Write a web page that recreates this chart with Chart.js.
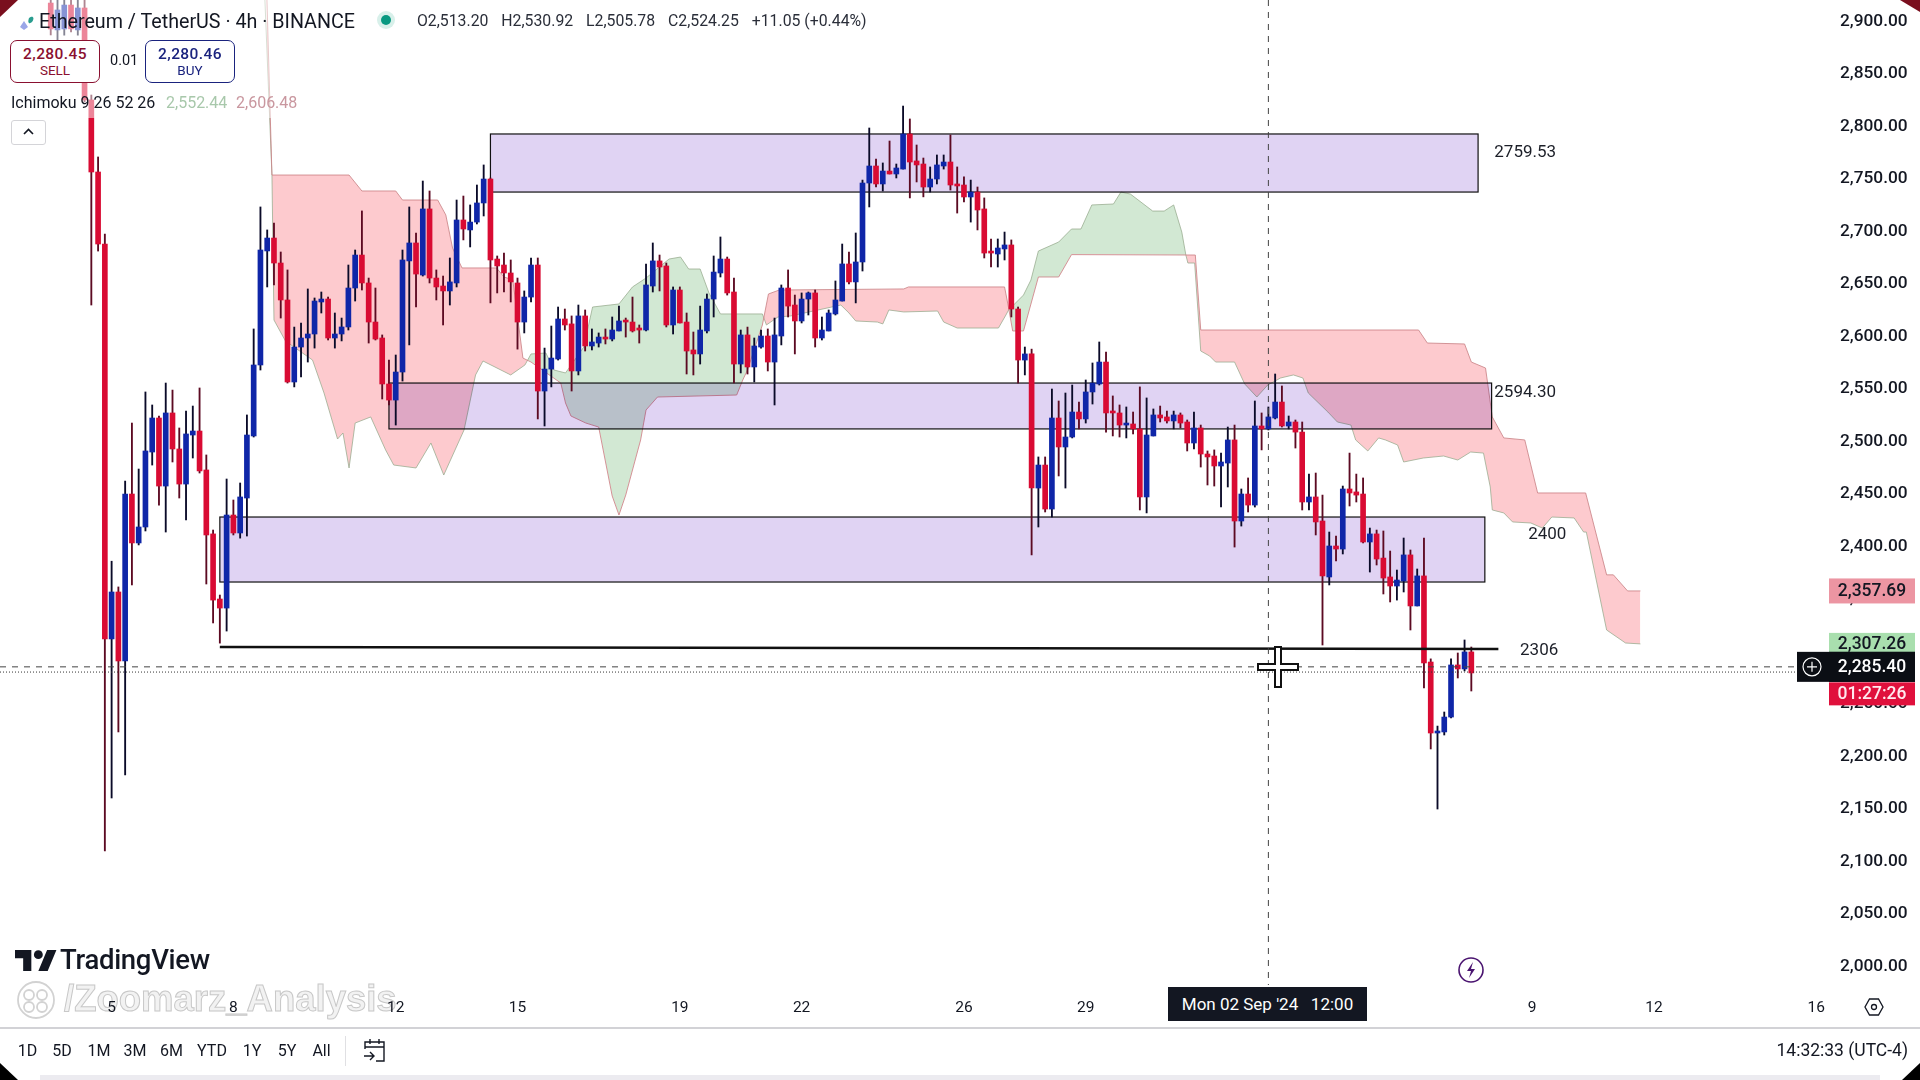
<!DOCTYPE html>
<html>
<head>
<meta charset="utf-8">
<title>ETHUSDT 4h</title>
<script src="https://cdn.jsdelivr.net/npm/chart.js@4/dist/chart.umd.min.js"></script>
<style>
	body { margin: 0; background: #fff; font-family: Roboto, sans-serif; color: #131722; overflow: hidden; }
	#stage { position: relative; width: 1920px; height: 1080px; overflow: hidden; }
	canvas { position: absolute; left: 0; top: 0; }
	.abs { position: absolute; white-space: nowrap; line-height: 1; }
	.range { position: absolute; top: 1043px; font-size: 16px; transform: translateX(-50%); line-height: 1; }
	.trade { position: absolute; top: 40px; width: 90px; height: 43px; border-radius: 7px; background: #fff; text-align: center; box-sizing: border-box; border: 1.5px solid; }
	.trade b { display: block; font-size: 15.5px; font-weight: 500; margin-top: 5px; line-height: 17px; letter-spacing: .4px; }
	.trade span { display: block; font-size: 13.5px; line-height: 15px; }
</style>
</head>
<body>
<div id="stage">
	<canvas id="chart" width="1920" height="1080"></canvas>

	<div class="abs" style="left:0;top:0;width:360px;height:118px;background:rgba(255,255,255,.5)"></div>
	<div class="abs" style="left:0;top:0;width:18px;height:17px;background:#7a0f1e;clip-path:polygon(0 0,100% 0,0 100%)"></div>
	<div class="abs" style="left:1900px;top:0;width:20px;height:12px;background:#7a0f1e;clip-path:polygon(0 0,100% 0,100% 100%)"></div>

	<svg class="abs" style="left:14px;top:12px" width="22" height="22" viewBox="0 0 22 22">
		<path d="M10 18l-4-3 4-6 4 6z" fill="#9aa6e8"/><path d="M15 6c4-3 6 0 3 4-2 2-5 2-3-4z" fill="#2a9d8f"/>
	</svg>
	<div class="abs" style="left:39px;top:12px;font-size:19.700px">Ethereum / TetherUS · 4h · BINANCE</div>
	<div class="abs" style="left:381px;top:15px;width:10px;height:10px;border-radius:50%;background:#089981;box-shadow:0 0 0 4px #d8f0ea"></div>
	<div class="abs" style="left:417px;top:13px;font-size:15.800px;word-spacing:9px;color:#2a2e39">O2,513.20 H2,530.92 L2,505.78 C2,524.25 <span style="word-spacing:0">+11.05 (+0.44%)</span></div>

	<div class="trade" style="left:10px;border-color:#8a1030;color:#8a1030"><b>2,280.45</b><span>SELL</span></div>
	<div class="abs" style="left:110px;top:54px;font-size:14.500px">0.01</div>
	<div class="trade" style="left:145px;border-color:#1a237e;color:#1a237e"><b>2,280.46</b><span>BUY</span></div>

	<div class="abs" style="left:11px;top:95px;font-size:16px">Ichimoku 9 26 52 26</div>
	<div class="abs" style="left:166px;top:95px;font-size:16px;color:#a8c8ab">2,552.44</div>
	<div class="abs" style="left:236px;top:95px;font-size:16px;color:#c9979f">2,606.48</div>
	<div class="abs" style="left:11px;top:120px;width:35px;height:25px;border:1px solid #d4d4d8;border-radius:3px;box-sizing:border-box;background:#fff">
		<svg width="33" height="23" viewBox="0 0 33 23"><path d="M12 13l4.500-4.500 4.500 4.500" fill="none" stroke="#131722" stroke-width="1.600"/></svg>
	</div>

	<svg class="abs" style="left:1256px;top:645px" width="44" height="44" viewBox="0 0 44 44">
		<path d="M19 2h6v17h17v6H25v17h-6V25H2v-6h17z" fill="#fff" stroke="#111" stroke-width="2"/>
	</svg>

	<svg class="abs" style="left:15px;top:950px" width="42" height="21" viewBox="0 0 36 18" preserveAspectRatio="none">
		<path d="M14 18H7V7H0V0h14zM28 18h-8L27.500 0h8z" fill="#131722"/><circle cx="20" cy="4" r="3.800" fill="#131722"/>
	</svg>
	<div class="abs" style="left:60px;top:946px;font-size:27.500px;font-weight:500;letter-spacing:-.3px">TradingView</div>

	<svg class="abs" style="left:15px;top:980px" width="42" height="40" viewBox="0 0 42 40" fill="none" stroke="#d2d2d2" stroke-width="1.800">
		<circle cx="21" cy="20" r="18"/><circle cx="14" cy="15" r="5"/><circle cx="27" cy="15" r="5"/><circle cx="14" cy="27" r="5"/><circle cx="27" cy="27" r="5"/>
	</svg>
	<div class="abs" style="left:64px;top:981px;font-family:'Liberation Sans';font-size:36.500px;font-weight:700;color:#f2f2f2;-webkit-text-stroke:1px #c8c8c8;mix-blend-mode:multiply">/Zoomarz_Analysis</div>

	<svg class="abs" style="left:1458px;top:957px" width="26" height="26" viewBox="0 0 26 26">
		<circle cx="13" cy="13" r="12" fill="#fff" stroke="#4a1470" stroke-width="1.600"/><path d="M15 5l-6 9h4l-2 7 6-9h-4z" fill="#4a1470"/>
	</svg>

	<div class="abs" style="left:1168px;top:987px;width:199px;height:34px;background:#131722;color:#fff;font-size:17px;line-height:34px;text-align:center;white-space:pre">Mon 02 Sep '24   12:00</div>

	<svg class="abs" style="left:1864px;top:997px" width="20" height="20" viewBox="0 0 20 20" fill="none" stroke="#131722" stroke-width="1.300">
		<path d="M5.500 2h9l4.500 8-4.500 8h-9L1 10z"/><circle cx="10" cy="10" r="2.500"/>
	</svg>

	<div class="abs" style="left:0;top:1027px;width:1920px;height:1.500px;background:#d2d2d6"></div>

	<div class="range" style="left:27.500px">1D</div>
	<div class="range" style="left:62px">5D</div>
	<div class="range" style="left:99px">1M</div>
	<div class="range" style="left:135px">3M</div>
	<div class="range" style="left:171.500px">6M</div>
	<div class="range" style="left:212px">YTD</div>
	<div class="range" style="left:252px">1Y</div>
	<div class="range" style="left:287px">5Y</div>
	<div class="range" style="left:321.500px">All</div>
	<div class="abs" style="left:345px;top:1036px;width:1px;height:30px;background:#e0e0e3"></div>
	<svg class="abs" style="left:363px;top:1037px" width="24" height="26" viewBox="0 0 24 26" fill="none" stroke="#131722" stroke-width="1.400">
		<path d="M2 12V5h19v19h-8M2 10h19M7 2v5M16 2v5M1 19h9M7 15l4 4-4 4"/>
	</svg>
	<div class="abs" style="right:12px;top:1042px;font-size:17.500px">14:32:33 (UTC-4)</div>

	<div class="abs" style="left:40px;top:1075px;width:1840px;height:5px;background:#ecebf0"></div>
	<div class="abs" style="left:0;top:1063px;width:18px;height:17px;background:#000;clip-path:polygon(0 0,100% 100%,0 100%)"></div>
	<div class="abs" style="left:1902px;top:1063px;width:18px;height:17px;background:#000;clip-path:polygon(100% 0,100% 100%,0 100%)"></div>
</div>

<script>
'use strict'

// top/bottom of candle bodies are open/close, one entry per 4h bar
const opens = [
	2917.6, 2892, 2892.9, 2915.7, 2892, 2912.9, 2825.3, 2756.7, 2688.1, 2312,
	2356.7, 2291, 2450, 2403.4, 2418.6, 2490, 2522.4, 2457.6, 2527.2, 2492.9,
	2459.5, 2506.2, 2510, 2472.9, 2412, 2350, 2341.4, 2430, 2412.9, 2446.2,
	2505.3, 2572.9, 2681.5, 2693.8, 2670, 2634.8, 2556.7, 2590, 2598.6, 2602.4,
	2632.9, 2635.7, 2598.6, 2602.4, 2609.1, 2646.2, 2677.6, 2651, 2613.8, 2598.6,
	2554.8, 2539.5, 2566.2, 2672, 2689.1, 2658.6, 2721.5, 2655.7, 2648.1, 2643.4,
	2651, 2711, 2701.5, 2709, 2727.2, 2750, 2673.8, 2668.1, 2660.5, 2651,
	2613.8, 2637.6, 2668.1, 2548.1, 2569, 2578.6, 2616.7, 2612, 2567.2, 2619.6,
	2591, 2593.8, 2599.5, 2597.6, 2605.3, 2614.8, 2613.8, 2607.2, 2606.2, 2648.1,
	2672, 2667.2, 2611, 2644.3, 2613.8, 2587.2, 2583.4, 2605.3, 2635.7, 2660.5,
	2673.8, 2642.4, 2573.8, 2601.5, 2571, 2590, 2600.5, 2575.7, 2600.5, 2646.2,
	2630, 2614.8, 2635.7, 2641.5, 2598.6, 2605.3, 2621.5, 2633.8, 2669.1, 2652,
	2671, 2746.2, 2762.4, 2745.3, 2757.6, 2754.8, 2759.5, 2792.9, 2767.2, 2764.3,
	2742.4, 2750, 2762.4, 2766.2, 2745.3, 2744.3, 2732.9, 2737.6, 2721.5, 2680.5,
	2678.6, 2683.4, 2687.2, 2626.2, 2577.6, 2583.4, 2455.7, 2477.6, 2435.7, 2522.4,
	2494.8, 2504.3, 2528.1, 2521.5, 2547.2, 2554.8, 2575.7, 2528.1, 2527.2, 2515.7,
	2516.7, 2512, 2447.2, 2505.3, 2525.3, 2523.4, 2519.6, 2525.3, 2518.6, 2498.6,
	2512.9, 2488.1, 2486.2, 2476.7, 2479.5, 2501.5, 2424.3, 2450, 2439.5, 2514.8,
	2512, 2522.4, 2537.6, 2514.8, 2518.6, 2509, 2442.4, 2447.2, 2424.3, 2371,
	2400.5, 2397.6, 2454.8, 2452, 2450, 2404.3, 2412, 2389, 2371, 2362.4,
	2367.2, 2392, 2343.4, 2372, 2290, 2222.4, 2223.4, 2237.6, 2287.2, 2283.4,
	2299.6,
]
const closes = [
	2892.9, 2911, 2915.7, 2893, 2912.9, 2825.3, 2756.7, 2688.1, 2312, 2356.7,
	2291, 2450, 2403.4, 2418.6, 2491, 2522.4, 2457.6, 2527.2, 2492.9, 2459.5,
	2507.2, 2510, 2472, 2411, 2349, 2341.4, 2430, 2412.9, 2447.2, 2506.2,
	2572.9, 2682.4, 2693.8, 2670, 2634.8, 2556.7, 2590, 2598.6, 2602.4, 2633.8,
	2635.7, 2598.6, 2602.4, 2609.1, 2646.2, 2677.6, 2651, 2613.8, 2597.6, 2554.8,
	2539.5, 2566.2, 2672.9, 2689.1, 2659.5, 2721.5, 2655.7, 2647.2, 2643.4, 2652,
	2711, 2702.4, 2709, 2727.2, 2750, 2672.9, 2667.2, 2660.5, 2652, 2613.8,
	2637.6, 2668.1, 2548.1, 2569, 2579.5, 2616.7, 2611, 2567.2, 2619.6, 2591,
	2594.8, 2599.5, 2597.6, 2606.2, 2614.8, 2613.8, 2605.3, 2606.2, 2649.1, 2672,
	2666.2, 2611, 2644.3, 2612.9, 2586.2, 2583.4, 2606.2, 2635.7, 2661.4, 2673.8,
	2641.5, 2573.8, 2601.5, 2571, 2591, 2600.5, 2575.7, 2601.5, 2646.2, 2629,
	2614.8, 2635.7, 2641.5, 2598.6, 2606.2, 2622.4, 2634.8, 2669.1, 2652, 2671,
	2746.2, 2762.4, 2745.3, 2757.6, 2754.8, 2760.5, 2792.9, 2766.2, 2763.4, 2742.4,
	2750, 2763.4, 2766.2, 2744.3, 2743.4, 2732.9, 2737.6, 2720.5, 2679.5, 2679.5,
	2684.3, 2687.2, 2626.2, 2577.6, 2583.4, 2455.7, 2477.6, 2435.7, 2522.4, 2494.8,
	2504.3, 2528.1, 2521.5, 2547.2, 2555.7, 2575.7, 2527.2, 2527.2, 2515.7, 2516.7,
	2512, 2447.2, 2506.2, 2525.3, 2522.4, 2519.6, 2525.3, 2517.6, 2498.6, 2512.9,
	2488.1, 2485.3, 2476.7, 2480.5, 2501.5, 2424.3, 2450, 2439.5, 2514.8, 2512,
	2523.4, 2537.6, 2514.8, 2518.6, 2509, 2442.4, 2447.2, 2423.4, 2372, 2400.5,
	2397.6, 2454.8, 2451, 2449, 2404.3, 2412, 2388.1, 2370, 2362.4, 2368.1,
	2392, 2343.4, 2372, 2289.1, 2222.4, 2224.3, 2237.6, 2287.2, 2283.4, 2299.6,
	2279.6,
]
const highs = [
	2925, 2925, 2925, 2925, 2925, 2925, 2830, 2771, 2697.6, 2386,
	2361.5, 2462.4, 2517.6, 2473.8, 2547.2, 2534.8, 2524.3, 2555.7, 2549, 2512.9,
	2529, 2533.8, 2551, 2487.2, 2415.7, 2353.8, 2464.3, 2444.3, 2460.5, 2525.3,
	2607.2, 2723.4, 2701.5, 2708.1, 2680.5, 2663.4, 2609, 2612.9, 2645.3, 2636.7,
	2642.4, 2637.6, 2622.4, 2617.6, 2668.1, 2682.4, 2719.6, 2655.7, 2646.2, 2601.5,
	2577.6, 2582.4, 2682.4, 2723.4, 2698.6, 2748.1, 2738.6, 2663.4, 2657.6, 2674.8,
	2730, 2733.8, 2725.3, 2744.3, 2763.4, 2751, 2676.7, 2679.5, 2672.9, 2655.7,
	2643.4, 2674.8, 2674.8, 2589, 2610, 2628.1, 2626.2, 2619.6, 2630, 2625.3,
	2607.2, 2603.4, 2607.2, 2618.6, 2629, 2617.6, 2637.6, 2611, 2669.1, 2689.1,
	2677.6, 2670, 2647.2, 2647.2, 2622.4, 2604.3, 2629, 2640.5, 2676.7, 2694.8,
	2675.7, 2655.7, 2606.2, 2609, 2598.6, 2606.2, 2607.2, 2617.6, 2649.1, 2663.4,
	2639.5, 2641.5, 2642.4, 2644.3, 2618.6, 2625.3, 2652.9, 2688.1, 2680.5, 2698.6,
	2749, 2798.6, 2769, 2765.3, 2786.2, 2764.3, 2819.5, 2807.2, 2782.4, 2770,
	2761.5, 2772.9, 2772.9, 2792, 2761.5, 2752, 2749, 2742.4, 2732, 2692.9,
	2692.9, 2699.5, 2692, 2628.1, 2590, 2588, 2485.3, 2485.3, 2550, 2538.6,
	2546.2, 2553.8, 2537.6, 2558.6, 2574.8, 2594.8, 2585.3, 2543.4, 2534.8, 2532.9,
	2528.1, 2552, 2541.5, 2531, 2533.8, 2529, 2529, 2527.2, 2520.5, 2528.1,
	2515.7, 2491, 2492, 2489, 2513.8, 2515.7, 2454.8, 2465.3, 2538.6, 2527.2,
	2532.9, 2564.3, 2552.9, 2524.3, 2520.5, 2518.6, 2469, 2470, 2449, 2413.8,
	2410, 2457.6, 2489, 2469, 2465.3, 2417.6, 2415.7, 2414.8, 2395.7, 2377.6,
	2408.1, 2396.7, 2378.6, 2408.1, 2293, 2229, 2242.4, 2293, 2298.6, 2311,
	2304.3,
]
const lows = [
	2887.2, 2882.4, 2887, 2890, 2887, 2823.4, 2630, 2681.4, 2110, 2160.5,
	2223.4, 2182.4, 2363.4, 2401.5, 2414.8, 2477.6, 2439.5, 2413.8, 2480.5, 2446.2,
	2425.3, 2484.3, 2470, 2364.3, 2327.2, 2308, 2319.5, 2411, 2408, 2410,
	2504.3, 2568.1, 2647.2, 2649.1, 2617.6, 2555.7, 2552, 2561.5, 2575.7, 2589,
	2622.4, 2596.7, 2589, 2595.8, 2606.2, 2633.8, 2644.3, 2593.8, 2596.7, 2540.5,
	2534.8, 2515.7, 2557.6, 2592, 2628.1, 2657.6, 2651, 2634.8, 2611, 2630,
	2647.2, 2692, 2685.3, 2707.2, 2714.8, 2632, 2641.5, 2642.4, 2632.9, 2588,
	2603.4, 2632.9, 2521.5, 2514.8, 2552, 2577.6, 2606.2, 2548.1, 2563.4, 2586.2,
	2587.2, 2590, 2592.9, 2595.8, 2605.3, 2599.5, 2604.3, 2593.8, 2605.3, 2642.4,
	2643.4, 2609.1, 2602.4, 2612.9, 2564.3, 2563.4, 2573.8, 2603.4, 2618.6, 2656.7,
	2639.5, 2555.7, 2565.3, 2564.3, 2556.7, 2589, 2567.2, 2534.8, 2592, 2618.6,
	2583.4, 2612.9, 2620.5, 2590, 2596.7, 2605.3, 2620.5, 2633.8, 2650, 2632,
	2662.4, 2723.4, 2742.4, 2738.6, 2754.8, 2751, 2759.5, 2732, 2747.2, 2733,
	2737.6, 2745.3, 2759.5, 2739.5, 2717.6, 2728.1, 2709, 2701.5, 2674.8, 2666.2,
	2666.2, 2672.9, 2618.6, 2555.7, 2563.4, 2392, 2418.6, 2432.9, 2428.1, 2467.2,
	2455.7, 2503.4, 2512, 2517.6, 2535.7, 2553.8, 2509, 2505.3, 2504.3, 2503.4,
	2507.2, 2434.8, 2432, 2505.3, 2518.6, 2517.6, 2512, 2513, 2491, 2492.9,
	2475.7, 2458.6, 2457.6, 2437.6, 2456.7, 2399.5, 2419.5, 2432.9, 2437.6, 2492,
	2511, 2521.5, 2513.8, 2512, 2493.8, 2434.8, 2434.8, 2411, 2306.2, 2363.4,
	2386.2, 2392.9, 2438.6, 2442.4, 2403.4, 2375.7, 2382.4, 2354.8, 2347.2, 2349,
	2356.7, 2320.5, 2343.4, 2265.3, 2207.2, 2150, 2220.5, 2236.7, 2274.8, 2281.5,
	2262.4,
]

// ichimoku cloud edges, vertices (bar number, price)
const spanABars = [
	31.6, 32.7, 33, 34.7, 38.7, 40.4, 42.4, 43.2, 44.1, 45, 47.3, 49.5, 50.7, 54, 56.2, 58.1, 61.1, 62.8, 63.9, 68,
	70.1, 71, 73.2, 74.4, 76.1, 78.8, 80.1, 84, 86, 88, 91.4, 93.1, 94.3, 96, 97.3, 99, 105.2, 105.8, 107.5, 109.4,
	116.8, 118, 119, 122.2, 123, 123.9, 126.1, 131.1, 132, 134, 140.1, 141.2, 141.6, 143.8, 144.9, 146, 149, 150.9, 152.3, 153.9,
	157.1, 158.2, 159.6, 162.9, 164.6, 166, 167.2, 167.8, 168.1, 169.1, 170, 171.3, 172.2, 175, 176.5, 178.3, 179.9, 181.8, 183.7, 185.1,
	185.9, 188.8, 190.2, 192.2, 192.9, 194.7, 196.3, 197.3, 199.1, 200, 202.9, 205.9, 208, 209.9, 211.8, 212.8, 213.1, 214.8, 216.1, 218.8,
	220.5, 221.9, 225.2, 226.6, 227, 230, 232.8, 235,
]
const spanAValues = [
	2930, 2753.8, 2615.7, 2595.7, 2577.6, 2546.2, 2502.4, 2508.1, 2474.8, 2517.6, 2523.4, 2492, 2477.6, 2474.8, 2498.6, 2468.1, 2511, 2563.4, 2576.7, 2563.4,
	2572.9, 2583.4, 2584.3, 2568.1, 2565.3, 2590, 2628.1, 2631, 2647.2, 2655.7, 2673.8, 2675.7, 2664.3, 2664.3, 2641.5, 2621.5, 2621.5, 2611, 2618.6, 2619.6,
	2630, 2622.4, 2614.8, 2613.8, 2612, 2625.3, 2623.4, 2624.3, 2613.8, 2608.1, 2608.1, 2620.5, 2625.3, 2639.5, 2653.8, 2681.4, 2690, 2702.4, 2702.4, 2725.3,
	2726.2, 2737.6, 2735.7, 2719.5, 2719.5, 2725.3, 2699.5, 2677.6, 2670, 2670, 2586.2, 2581.5, 2575.7, 2575.7, 2554.8, 2542.4, 2553.8, 2560.5, 2563.4, 2560.5,
	2546.2, 2528.1, 2518.6, 2515.7, 2501.5, 2491, 2503.4, 2501.5, 2496.7, 2480.5, 2484.3, 2486.2, 2482.4, 2490, 2489, 2456.7, 2434.8, 2432, 2423.4, 2422.4,
	2417.6, 2428.1, 2427.2, 2413.8, 2413.8, 2320.5, 2308.1, 2307.26,
]
const spanBBars = [
	31.9, 32.7, 44.1, 46, 51, 52, 57.2, 58.4, 59.4, 60.8, 65.9, 67, 68.3, 69.8, 71, 75.4, 76.1, 76.9, 79.1, 81,
	83, 84, 85, 87.2, 88, 89.7, 101.4, 102.3, 103, 105.2, 106.1, 107.7, 126.1, 126.8, 141, 141.6, 142.2, 143.8, 146, 149,
	150.9, 169.2, 170, 202.2, 203.5, 209, 210, 212.1, 213.1, 214.8, 217.9, 219.8, 226.9, 230, 231, 233.1, 235,
]
const spanBValues = [
	2935, 2753.8, 2753.8, 2738.6, 2738.6, 2730, 2730, 2715.8, 2684.3, 2665.3, 2665.3, 2656.7, 2654, 2579.5, 2575.7, 2555.7, 2536.7, 2524.3, 2517.6, 2513.8,
	2448.1, 2430, 2449, 2501.5, 2530, 2542.4, 2544.3, 2558.6, 2568.1, 2611, 2640.5, 2644.3, 2645.3, 2647.2, 2647.2, 2627.2, 2605.3, 2605.3, 2656.7, 2656.7,
	2678, 2677.6, 2606.2, 2606.2, 2593.8, 2592.9, 2575.7, 2570, 2523.4, 2503.4, 2501.5, 2451, 2451, 2373, 2373, 2357.69, 2357.69,
]

// drawn zones and their labels
const zoneStart = [65, 50, 25]
const zoneEnd = [211, 213, 212]
const zoneTop = [2792.9, 2555.7, 2428.1]
const zoneBottom = [2737.6, 2512, 2366.2]
const noteTexts = ['2759.53', '2594.30', '2400', '2306']
const noteBars = [213.4, 213.4, 218.4, 217.2]
const notePrices = [2775, 2546, 2411, 2301]
const supportBars = [25, 214]
const supportPrices = [2304.3, 2302.4]

const crossBar = 180
const crossPrice = 2285.4
const lastPrice = 2280.45

const xTickBars = [9, 27, 51, 69, 93, 111, 135, 153, 219, 237, 261]
const xTickLabels = ['5', '8', '12', '15', '19', '22', '26', '29', '9', '12', '16']
const yTickValues = [2000, 2050, 2100, 2150, 2200, 2250, 2300, 2350, 2400, 2450, 2500, 2550, 2600, 2650, 2700, 2750, 2800, 2850, 2900]

const UP_COLOR = '#0f26a8'
const DOWN_COLOR = '#d90b33'
const FONT = 'Roboto, sans-serif'

function formatPrice(val) {
	return val.toLocaleString('en-US', { minimumFractionDigits: 2, maximumFractionDigits: 2 })
}

function isUp(idx) {
	return closes[idx] >= opens[idx]
}

function badge(ctx, left, right, yMid, height, fill, text, color) {
	ctx.fillStyle = fill
	ctx.fillRect(left, yMid - height / 2, right - left, height)
	ctx.fillStyle = color
	ctx.font = '500 17.5px ' + FONT
	ctx.textAlign = 'center'
	ctx.textBaseline = 'middle'
	ctx.fillText(text, 1872, yMid + 1)
}

// rectangles sit over the cloud and under the candles
const zonesPlugin = {
	id: 'zones',
	beforeDatasetDraw(chart, args) {
		if (chart.data.datasets[args.index].label !== 'wicks') return
		const { ctx, scales: { x, y } } = chart
		ctx.save()
		zoneStart.forEach((start, idx) => {
			const left = x.getPixelForValue(start)
			const top = y.getPixelForValue(zoneTop[idx])
			const width = x.getPixelForValue(zoneEnd[idx]) - left
			const height = y.getPixelForValue(zoneBottom[idx]) - top
			ctx.globalCompositeOperation = 'multiply'
			ctx.fillStyle = '#e0d3f3'
			ctx.fillRect(left, top, width, height)
			ctx.globalCompositeOperation = 'source-over'
			ctx.strokeStyle = '#111'
			ctx.lineWidth = 1.2
			ctx.strokeRect(left, top, width, height)
		})
		ctx.restore()
	},
	afterDatasetsDraw(chart) {
		const { ctx, chartArea, scales: { x, y } } = chart
		ctx.save()

		ctx.strokeStyle = '#111'
		ctx.lineWidth = 2.4
		ctx.beginPath()
		ctx.moveTo(x.getPixelForValue(supportBars[0]), y.getPixelForValue(supportPrices[0]))
		ctx.lineTo(x.getPixelForValue(supportBars[1]), y.getPixelForValue(supportPrices[1]))
		ctx.stroke()

		ctx.fillStyle = '#1c1f28'
		ctx.font = '17px ' + FONT
		ctx.textAlign = 'left'
		ctx.textBaseline = 'middle'
		noteTexts.forEach((text, idx) => {
			ctx.fillText(text, x.getPixelForValue(noteBars[idx]), y.getPixelForValue(notePrices[idx]))
		})

		// last price dotted line
		ctx.strokeStyle = '#333'
		ctx.lineWidth = 1
		ctx.setLineDash([1, 2])
		ctx.beginPath()
		ctx.moveTo(0, y.getPixelForValue(lastPrice))
		ctx.lineTo(1797, y.getPixelForValue(lastPrice))
		ctx.stroke()

		// crosshair
		ctx.strokeStyle = '#444'
		ctx.setLineDash([6, 6])
		ctx.beginPath()
		ctx.moveTo(x.getPixelForValue(crossBar), 0)
		ctx.lineTo(x.getPixelForValue(crossBar), chartArea.bottom)
		ctx.moveTo(0, y.getPixelForValue(crossPrice))
		ctx.lineTo(1797, y.getPixelForValue(crossPrice))
		ctx.stroke()
		ctx.restore()
	},
	afterDraw(chart) {
		const { ctx, scales: { y } } = chart
		ctx.save()
		badge(ctx, 1829, 1915, y.getPixelForValue(spanBValues[spanBValues.length - 1]), 25, '#ec95a2', formatPrice(spanBValues[spanBValues.length - 1]), '#131722')
		badge(ctx, 1829, 1915, y.getPixelForValue(spanAValues[spanAValues.length - 1]), 22, '#a9dfae', formatPrice(spanAValues[spanAValues.length - 1]), '#131722')
		const yMid = y.getPixelForValue(crossPrice)
		badge(ctx, 1797, 1915, yMid, 30, '#0b0e14', '', '#fff')
		badge(ctx, 1829, 1915, yMid, 30, '#0b0e14', formatPrice(crossPrice), '#fff')
		badge(ctx, 1829, 1915, yMid + 27, 23, '#e0103c', '01:27:26', '#ffe9ee')
		ctx.strokeStyle = '#fff'
		ctx.lineWidth = 1.2
		ctx.beginPath()
		ctx.arc(1812, yMid, 9, 0, Math.PI * 2)
		ctx.moveTo(1807, yMid)
		ctx.lineTo(1817, yMid)
		ctx.moveTo(1812, yMid - 5)
		ctx.lineTo(1812, yMid + 5)
		ctx.stroke()
		ctx.restore()
	},
}

function renderChart() {
	const ctx = document.querySelector('#chart')

	new Chart(ctx, {
		type: 'bar',
		plugins: [zonesPlugin],
		data: {
			datasets: [
				{
					type: 'line',
					label: 'spanA',
					data: spanABars.map((bar, idx) => ({ x: bar, y: spanAValues[idx] })),
					borderColor: 'rgba(150,170,140,0.75)',
					borderWidth: 1,
					pointRadius: 0,
					tension: 0,
					fill: { target: '+1', above: '#d2e8d3', below: '#fdcace' },
					order: 4,
				},
				{
					type: 'line',
					label: 'spanB',
					data: spanBBars.map((bar, idx) => ({ x: bar, y: spanBValues[idx] })),
					borderColor: 'rgba(205,130,135,0.85)',
					borderWidth: 1,
					pointRadius: 0,
					tension: 0,
					order: 3,
				},
				{
					label: 'wicks',
					data: opens.map((_, idx) => ({ x: idx, y: [lows[idx], highs[idx]] })),
					backgroundColor: opens.map((_, idx) => (isUp(idx) ? '#0a0a28' : '#5c0a22')),
					barThickness: 1.2,
					order: 2,
				},
				{
					label: 'bodies',
					data: opens.map((open, idx) => ({ x: idx, y: [open, closes[idx]] })),
					backgroundColor: opens.map((_, idx) => (isUp(idx) ? UP_COLOR : DOWN_COLOR)),
					barThickness: 5,
					minBarLength: 2,
					order: 1,
				},
			],
		},
		options: {
			responsive: false,
			animation: false,
			layout: { padding: 0 },
			datasets: { bar: { grouped: false } },
			plugins: { legend: { display: false }, tooltip: { enabled: false } },
			scales: {
				x: {
					type: 'linear',
					offset: false,
					min: -7.5,
					max: 262.875,
					grid: { display: false },
					border: { display: false },
					afterBuildTicks: scale => {
						scale.ticks = xTickBars.map(value => ({ value }))
					},
					ticks: {
						autoSkip: false,
						maxRotation: 0,
						padding: 6,
						color: '#131722',
						font: { family: FONT, size: 15.5 },
						callback: value => xTickLabels[xTickBars.indexOf(value)],
					},
					afterFit: scale => {
						scale.height = 95
						scale.paddingLeft = 0
						scale.paddingRight = 0
					},
				},
				y: {
					position: 'right',
					min: 1982.4,
					max: 2920.5,
					grid: { display: false },
					border: { display: false },
					afterBuildTicks: scale => {
						scale.ticks = yTickValues.map(value => ({ value }))
					},
					ticks: {
						padding: 3,
						color: '#131722',
						font: { family: FONT, size: 17.3, weight: 500 },
						callback: value => formatPrice(value),
					},
					afterFit: scale => {
						scale.width = 91
						scale.paddingTop = 0
						scale.paddingBottom = 0
					},
				},
			},
		},
	})
}

renderChart()
</script>
</body>
</html>
